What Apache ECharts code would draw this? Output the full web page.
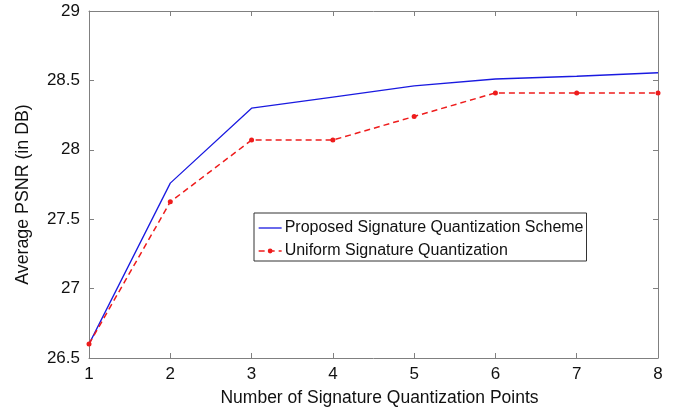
<!DOCTYPE html>
<html><head><meta charset="utf-8">
<script src="https://cdn.jsdelivr.net/npm/echarts@6/dist/echarts.min.js"></script>
<style>html,body{margin:0;padding:0;background:#fff}#c{width:677px;height:412px}</style>
</head><body><div id="c"></div>
<script>
const categories = [1, 2, 3, 4, 5, 6, 7, 8];
const proposed = [26.6, 27.76, 28.30, 28.38, 28.46, 28.51, 28.53, 28.555];
const uniform = [26.6, 27.625, 28.07, 28.07, 28.24, 28.41, 28.41, 28.41];
const yTicks = [26.5, 27, 27.5, 28, 28.5, 29];
const seriesNames = ['Proposed Signature Quantization Scheme', 'Uniform Signature Quantization'];

const font = 'Liberation Sans, Arial, sans-serif';
const axisGrey = '#808080';
const chart = echarts.init(document.getElementById('c'));
const baseX = {
  type: 'value', min: 1, max: 8, interval: 1,
  axisLine: {show: true, onZero: false, lineStyle: {color: axisGrey, width: 1}},
  axisTick: {show: true, inside: true, length: 5, lineStyle: {color: axisGrey}},
  splitLine: {show: false}
};
const baseY = {
  type: 'value', min: 26.5, max: 29, interval: 0.5,
  axisLine: {show: true, onZero: false, lineStyle: {color: axisGrey, width: 1}},
  axisTick: {show: true, inside: true, length: 5, lineStyle: {color: axisGrey}},
  splitLine: {show: false}
};
chart.setOption({
  animation: false,
  backgroundColor: '#fff',
  grid: {left: 89, right: 19, top: 11, bottom: 54, containLabel: false},
  xAxis: [
    Object.assign({}, baseX, {
      position: 'bottom',
      axisLabel: {color: '#111', fontSize: 17, fontFamily: font, margin: 8},
      name: 'Number of Signature Quantization Points', nameLocation: 'middle', nameGap: 31,
      nameTextStyle: {color: '#111', fontSize: 17.5, fontFamily: font, padding: [0, 0, 0, 12]}
    }),
    Object.assign({}, baseX, {position: 'top', axisLabel: {show: false}})
  ],
  yAxis: [
    Object.assign({}, baseY, {
      position: 'left',
      axisLabel: {color: '#111', fontSize: 17, fontFamily: font, margin: 9,
        formatter: v => (yTicks.indexOf(v) >= 0 ? String(v) : '')},
      name: 'Average PSNR (in DB)', nameLocation: 'middle', nameGap: 57, nameRotate: 90,
      nameTextStyle: {color: '#111', fontSize: 17.8, fontFamily: font, padding: [0, 20, 0, 0]}
    }),
    Object.assign({}, baseY, {position: 'right', axisLabel: {show: false}})
  ],
  legend: {
    orient: 'vertical', left: 254, top: 213,
    backgroundColor: '#fff', borderColor: '#333', borderWidth: 1, borderRadius: 0,
    padding: [6, 3, 1, 4], itemWidth: 23, itemHeight: 6, itemGap: 5,
    lineStyle: {width: 1.3},
    textStyle: {color: '#111', fontSize: 16, lineHeight: 18, fontFamily: font, padding: [0, 0, 0, -2]},
    data: [
      {name: seriesNames[0], itemStyle: {opacity: 0}},
      {name: seriesNames[1]}
    ]
  },
  series: [
    {
      name: seriesNames[0], type: 'line', xAxisIndex: 0, yAxisIndex: 0,
      data: categories.map((c, i) => [c, proposed[i]]),
      symbol: 'none', lineStyle: {color: '#1a1ae0', width: 1.3}, itemStyle: {color: '#1a1ae0'}
    },
    {
      name: seriesNames[1], type: 'line', xAxisIndex: 0, yAxisIndex: 0,
      data: categories.map((c, i) => [c, uniform[i]]),
      symbol: 'circle', symbolSize: 5,
      lineStyle: {color: '#ee1c1c', width: 1.5, type: [6, 4]},
      itemStyle: {color: '#ee1c1c'}
    }
  ]
});
</script></body></html>
